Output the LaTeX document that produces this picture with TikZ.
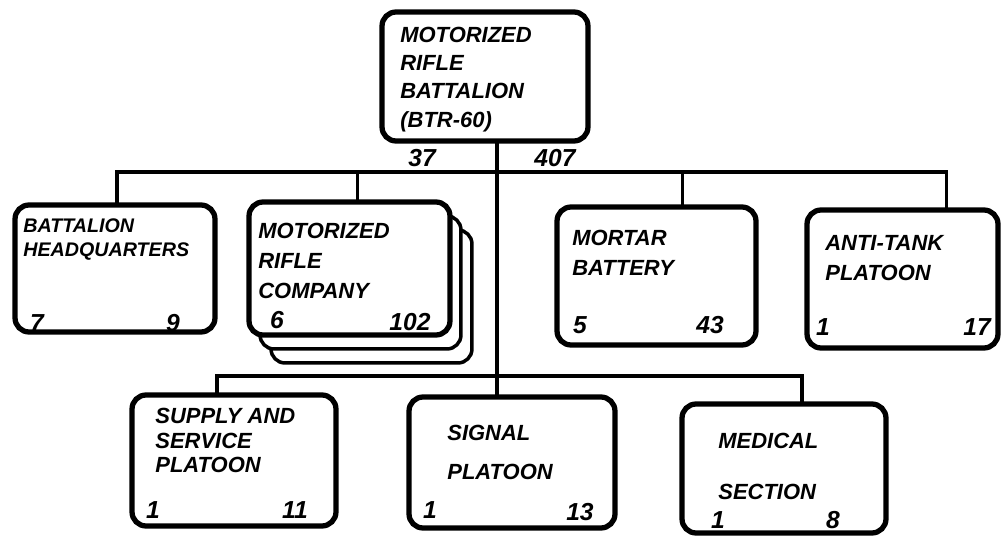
\documentclass[tikz,border=0pt]{standalone}
\usepackage{fontspec}
\setmainfont{Liberation Sans}
\usetikzlibrary{calc}
\tikzset{
  unit/.style  = {draw, line width=3pt, rounded corners=8pt, fill=white,
                  inner sep=0pt},
  stack/.style = {draw, line width=2pt, rounded corners=8pt, fill=white,
                  inner sep=0pt, minimum width=4.02cm, minimum height=2.66cm},
  title/.style = {anchor=north west, align=left, inner sep=0pt,
                  font=\fontsize{12.5}{16}\selectfont\bfseries\itshape},
  count/.style = {inner sep=0pt, font=\fontsize{14}{16}\selectfont\bfseries\itshape},
  link/.style  = {line width=2pt, line cap=rect}
}

\begin{document}
\begin{tikzpicture}[x=0.02cm, y=-0.02cm]
\useasboundingbox (0,0) rectangle (1005,537);
% ---- Companies stacked behind the front card ----
\node[stack] (co3) at (371.5,296.5) {};
\node[stack] (co2) at (360.5,282.5) {};

% ---- Units (centre, width, height) ----
\foreach \nm/\cx/\cy/\w/\h in {%
  top/485/76.5/4.12cm/2.58cm,
  hq/115/268.5/4.0cm/2.54cm,
  co/349.5/268.5/4.02cm/2.66cm,
  mortar/656.5/276/3.98cm/2.76cm,
  atk/902.5/279/3.82cm/2.76cm,
  sup/234/460.5/4.08cm/2.62cm,
  sig/512/462.5/4.12cm/2.62cm,
  med/784/468.5/4.08cm/2.58cm} {
  \node[unit, minimum width=\w, minimum height=\h] (\nm) at (\cx,\cy) {};
}

% ---- Unit names ----
\node[title] (toptxt) at (400,27) {MOTORIZED\\RIFLE\\BATTALION\\(BTR-60)};
\node[title, font=\fontsize{11.2}{14}\selectfont\bfseries\itshape]
  (hqtxt) at (23,218) {BATTALION\\HEADQUARTERS};
\node[title] (cotxt)  at (258,223) {MOTORIZED\\[1pt]RIFLE\\[1pt]COMPANY};
\node[title] (morttxt) at (572,230) {MORTAR\\[1pt]BATTERY};
\node[title] (atktxt) at (825,235) {ANTI-TANK\\[1pt]PLATOON};
\node[title] (suptxt) at (155,408) {SUPPLY AND\\[-2pt]SERVICE\\[-2pt]PLATOON};
\node[title] (sigtxt) at (447,425) {SIGNAL\\[6pt]PLATOON};
\node[title] (medtxt) at (718,433) {MEDICAL\\[13pt]SECTION};

% ---- Officers / men ----
\foreach \nm/\x/\y/\t in {%
  topa/422/158/37, topb/555/158/407,
  hqa/37/323/7, hqb/173/323/9,
  coa/277/320/6, cob/410/322/102,
  morta/580/325/5, mortb/710/325/43,
  atka/823/327/1, atkb/977/327/17,
  supa/153/510/1, supb/295/510/11,
  siga/430/510/1, sigb/580/512/13,
  meda/718/520/1, medb/833/520/8} {
  \node[count] (\nm) at (\x,\y) {\t};
}

% ---- Connectors ----
\coordinate (ubus) at (0,172);
\coordinate (lbus) at (0,376);
\coordinate (spine)  at ($(top.south)+(12,0)$);
\coordinate (hqin)   at ($(hq.north)+(2,0)$);
\coordinate (coin)   at ($(co.north)+(8,0)$);
\coordinate (mortin) at ($(mortar.north)+(26,0)$);
\coordinate (atkin)  at ($(atk.north)+(44,0)$);
\coordinate (supin)  at ($(sup.north)+(-17,0)$);
\coordinate (medin)  at ($(med.north)+(18,0)$);
\draw[link] (spine) -- (spine |- sig.north);
\draw[link] (hqin) |- (ubus -| atkin) -- (atkin);
\draw[link] (coin) -- (coin |- ubus);
\draw[link] (mortin) -- (mortin |- ubus);
\draw[link] (supin) |- (lbus -| medin) -- (medin);
\end{tikzpicture}
\end{document}
